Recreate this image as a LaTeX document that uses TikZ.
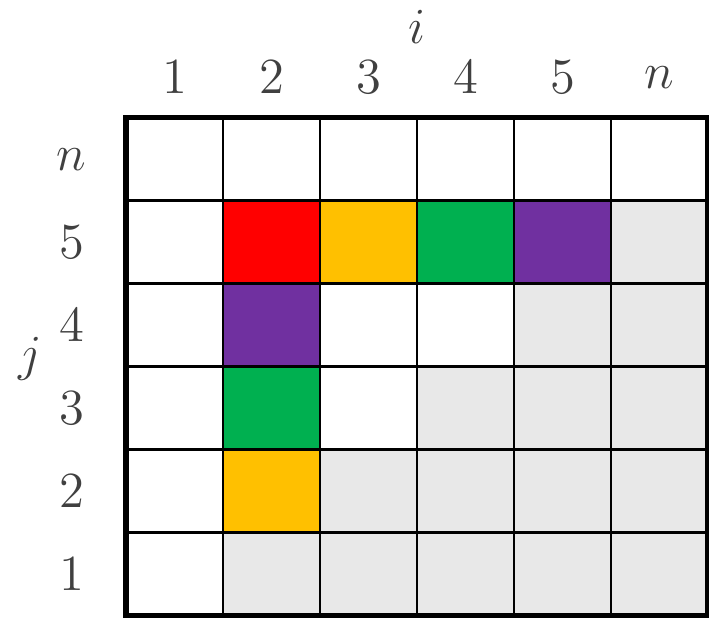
\documentclass[tikz,border=0pt]{standalone}
\usepackage{tikz}
\definecolor{Ink}{HTML}{404040}
\definecolor{Cred}{HTML}{FF0000}
\definecolor{Corange}{HTML}{FFC000}
\definecolor{Cgreen}{HTML}{00B050}
\definecolor{Cpurple}{HTML}{7030A0}
\definecolor{Cgrey}{HTML}{E8E8E8}

\begin{document}
\begin{tikzpicture}[x=0.97cm,y=0.83cm,lab/.style={color=Ink,font=\Large}]
        \useasboundingbox (-1.3,-0.024) rectangle (6.01,7.42);
        \foreach \i in {2,...,6}
          \foreach \j in {1,...,5}
            {\ifnum\i>\j \fill[Cgrey] (\i-1,\j-1) rectangle (\i,\j); \fi}
        \foreach \x/\y/\c in {1/4/Cred,2/4/Corange,3/4/Cgreen,4/4/Cpurple,1/3/Cpurple,1/2/Cgreen,1/1/Corange}
          \fill[\c] (\x,\y) rectangle ++(1,1);
        \foreach \k in {1,...,5} {
          \draw[line width=0.8pt] (\k,0) -- (\k,6);
          \draw[line width=0.8pt] (0,\k) -- (6,\k);
        }
        \draw[line width=1.5pt] (0,0) rectangle (6,6);
        \foreach \t [count=\k] in {1,2,3,4,5,n}
          \node[lab] (col\k) at (\k-0.5,6.49) {$\t$};
        \foreach \t [count=\k] in {1,2,3,4,5,n}
          \node[lab] (row\k) at (-0.56,\k-0.5) {$\t$};
        \node[lab] (ilab) at (3,7.1) {$i$};
        \node[lab] (jlab) at (-0.99,3.1) {$j$};
      \end{tikzpicture}
\end{document}
